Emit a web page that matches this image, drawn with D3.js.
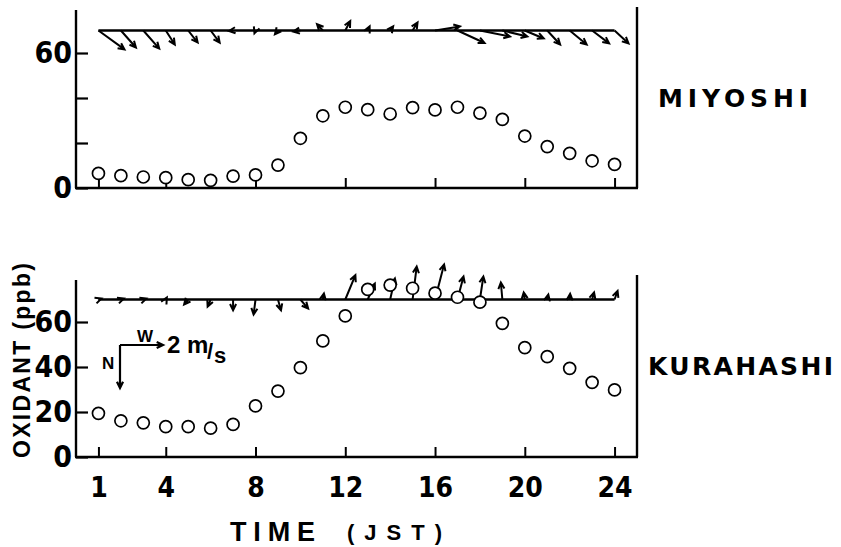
<!DOCTYPE html>
<html><head><meta charset="utf-8">
<script src="https://cdn.jsdelivr.net/npm/d3@7"></script>
<style>html,body{margin:0;padding:0;background:#fff;}svg{display:block;}</style>
</head><body>
<svg id="c" width="841" height="547"></svg>
<script>
// ---- data ----
const hours = [1,2,3,4,5,6,7,8,9,10,11,12,13,14,15,16,17,18,19,20,21,22,23,24];
const miyoshiOx = [6.5,5.5,4.9,4.6,3.7,3.4,5.3,5.8,10.2,22.1,32.1,35.9,34.8,32.9,35.7,34.7,35.9,33.3,30.5,23.1,18.4,15.4,12.1,10.5];
const kurahashiOx = [19.4,16.1,15.2,13.5,13.5,12.8,14.5,22.7,29.3,39.7,51.6,62.7,74.5,76.4,75.0,72.8,71.0,68.8,59.4,48.6,44.6,39.4,33.2,29.8];
// wind components, m/s (u: toward east, v: toward north)
const miyoshiU = [1.21,0.70,0.74,0.42,0.44,0.42,-0.19,-0.05,-0.14,-0.33,-0.27,0.23,0.09,0.14,0.23,1.16,1.26,1.40,1.16,0.88,0.60,0.79,0.79,0.65];
const miyoshiV = [-0.88,-0.79,-0.84,-0.65,-0.56,-0.56,-0.02,-0.13,-0.17,-0.05,0.29,0.44,0.19,0.19,0.37,0.19,-0.58,-0.28,-0.28,-0.37,-0.65,-0.65,-0.60,-0.60];
const kurahashiU = [0.14,0.14,0.14,0.05,-0.19,-0.14,0.0,-0.09,0.14,0.36,0.05,0.47,0.33,0.22,0.19,0.42,0.28,0.16,-0.07,-0.05,0.05,0.02,0.09,0.14];
const kurahashiV = [0.05,0.05,0.05,0.09,-0.23,-0.33,-0.50,-0.70,-0.50,-0.42,0.28,1.13,0.74,0.98,1.53,1.63,1.07,1.07,0.79,0.33,0.23,0.26,0.33,0.40];
const windBase = 70;           // ppb level of wind baseline
const xTicks = [1,4,8,12,16,20,24];
const yTicks = [0,20,40,60];
const topLabels = [0,60];
const bottomLabels = [0,20,40,60];
const refSpeed = 2;            // m/s reference arrow

// ---- layout ----
const svg = d3.select("#c");
const x = d3.scaleLinear().domain([0,25]).range([76,637]);
const wind = d3.scaleLinear().domain([0,2]).range([0,43]);
const FONT = "'Liberation Sans', Arial, sans-serif";
const WIDE = "'DejaVu Sans', Verdana, sans-serif";
const NARROW = "'Liberation Sans Narrow','DejaVu Sans Condensed','Arial Narrow',sans-serif";

const panels = [
  {name:"MIYOSHI", ox:miyoshiOx, u:miyoshiU, v:miyoshiV, y:d3.scaleLinear().domain([0,80]).range([188,8]),
   axTop:10, rTop:7, labels:topLabels, xlabels:false, nameX:658, nameY:107, nameLen:150},
  {name:"KURAHASHI", ox:kurahashiOx, u:kurahashiU, v:kurahashiV, y:d3.scaleLinear().domain([0,80]).range([457,277]),
   axTop:280, rTop:275, labels:bottomLabels, xlabels:true, nameX:648, nameY:375, nameLen:185}
];

function arrow(g, x0, y0, dx, dy, sw){
  const len = Math.hypot(dx,dy);
  if (len < 0.01) return;
  const x1 = x0+dx, y1 = y0+dy;
  const a = Math.atan2(dy,dx), h = 7, s = 0.45;
  const p = `M${x0},${y0}L${x1},${y1}` +
    `M${x1-h*Math.cos(a-s)},${y1-h*Math.sin(a-s)}L${x1},${y1}L${x1-h*Math.cos(a+s)},${y1-h*Math.sin(a+s)}`;
  g.append("path").attr("d",p).attr("fill","none").attr("stroke","#000")
   .attr("stroke-width",sw).attr("stroke-linejoin","miter").attr("stroke-linecap","butt");
}

panels.forEach(P=>{
  const g = svg.append("g");
  const y = P.y, y0 = y(0);
  // frame lines
  g.append("line").attr("x1",x(0)).attr("x2",x(0)).attr("y1",y0).attr("y2",P.axTop).attr("stroke","#000").attr("stroke-width",2.4);
  g.append("line").attr("x1",x(25)).attr("x2",x(25)).attr("y1",y0).attr("y2",P.rTop).attr("stroke","#000").attr("stroke-width",2.4);
  g.append("line").attr("x1",x(0)-1).attr("x2",x(25)+1).attr("y1",y0).attr("y2",y0).attr("stroke","#000").attr("stroke-width",2.4);

  // y axis
  const ya = g.append("g").attr("transform",`translate(${x(0)},0)`)
    .call(d3.axisLeft(y).tickValues(yTicks).tickSize(-12).tickSizeOuter(0).tickPadding(4)
      .tickFormat(d=>P.labels.includes(d)?d:""));
  ya.select(".domain").remove();
  ya.selectAll("line").attr("stroke-width",2.2);
  ya.selectAll("text").attr("font-family",NARROW).attr("font-weight","bold").attr("font-size",30).attr("fill","#000");

  // x axis
  const xa = g.append("g").attr("transform",`translate(0,${y0})`)
    .call(d3.axisBottom(x).tickValues(xTicks).tickSize(-10).tickSizeOuter(0).tickPadding(20)
      .tickFormat(d=>P.xlabels?d:""));
  xa.select(".domain").remove();
  xa.selectAll("line").attr("stroke-width",2);
  xa.selectAll("text").attr("font-family",NARROW).attr("font-weight","bold").attr("font-size",28).attr("fill","#000");

  // wind baseline
  g.append("line").attr("x1",x(hours[0])).attr("x2",x(hours[hours.length-1]))
    .attr("y1",y(windBase)).attr("y2",y(windBase)).attr("stroke","#000").attr("stroke-width",2.3);
  // wind vectors
  const wg = g.append("g");
  hours.forEach((h,i)=>{
    arrow(wg, x(h), y(windBase), wind(P.u[i]), -wind(P.v[i]), 2);
  });
  // oxidant circles
  g.append("g").selectAll("circle").data(hours).join("circle")
    .attr("cx",d=>x(d)).attr("cy",(d,i)=>y(P.ox[i])).attr("r",6)
    .attr("fill","#fff").attr("stroke","#000").attr("stroke-width",1.7);

  // station name
  g.append("text").attr("x",P.nameX).attr("y",P.nameY).text(P.name)
    .attr("font-family",WIDE).attr("font-weight","bold").attr("font-size",25)
    .attr("textLength",P.nameLen).attr("lengthAdjust","spacing");
});

// legend (bottom panel)
const lg = svg.append("g");
const lx = 120, ly = 345;
arrow(lg, lx, ly, wind(refSpeed), 0, 2.2);
arrow(lg, lx, ly, 0, wind(refSpeed), 2.2);
lg.append("text").attr("x",137).attr("y",342).text("W").attr("font-family",FONT).attr("font-weight","bold").attr("font-size",17);
lg.append("text").attr("x",102).attr("y",369).text("N").attr("font-family",FONT).attr("font-weight","bold").attr("font-size",17);
lg.append("text").attr("x",167).attr("y",353).text("2 m").attr("font-family",FONT).attr("font-weight","bold").attr("font-size",24);
lg.append("text").attr("x",207).attr("y",359).text("/").attr("font-family",FONT).attr("font-weight","bold").attr("font-size",22);
lg.append("text").attr("x",214).attr("y",363).text("s").attr("font-family",FONT).attr("font-weight","bold").attr("font-size",22);

// y title
svg.append("text").attr("transform","translate(30,458) rotate(-90)").text("OXIDANT (ppb)")
  .attr("font-family",FONT).attr("font-weight","bold").attr("font-size",23)
  .attr("textLength",195).attr("lengthAdjust","spacing");

// x title
svg.append("text").attr("x",230).attr("y",541).text("TIME")
  .attr("font-family",FONT).attr("font-weight","bold").attr("font-size",27)
  .attr("textLength",85).attr("lengthAdjust","spacing");
svg.append("text").attr("x",347).attr("y",540).text("(JST)")
  .attr("font-family",FONT).attr("font-weight","bold").attr("font-size",22)
  .attr("textLength",95).attr("lengthAdjust","spacing");
</script>
</body></html>
